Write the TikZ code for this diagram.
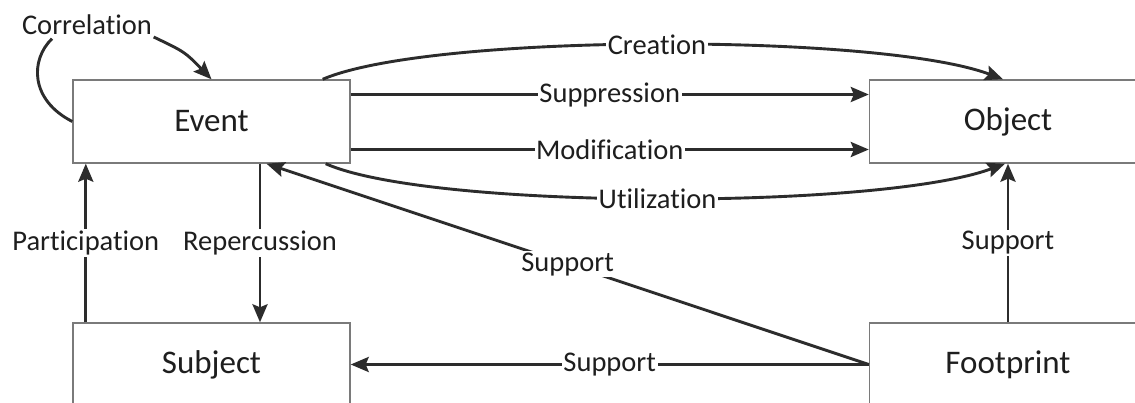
\documentclass[tikz,border=0pt]{standalone}
\usepackage{fontspec}
\setmainfont{Carlito}[RawFeature={-liga;-clig;-dlig}]
\usetikzlibrary{arrows.meta,calc}
\definecolor{ln}{HTML}{2c2c2c}
\definecolor{bx}{HTML}{7a7a7a}
\definecolor{tx}{HTML}{1e1e1e}
\begin{document}
\begin{tikzpicture}[x=1pt,y=-1pt,
  box/.style={draw=bx,line width=1.4pt,fill=white,minimum width=277pt,minimum height=83pt,inner sep=0pt,font=\fontsize{33}{38}\selectfont,text=tx},
  lbl/.style={fill=white,inner sep=1.5pt,font=\fontsize{28.5}{32}\selectfont,text=tx},
  con/.style={draw=ln,line width=2.9pt},
  arr/.style={con,-{Stealth[length=18pt,width=15pt,inset=3pt]}}]
\useasboundingbox (0,0) rectangle (1135,403);
\clip (0,0) rectangle (1135,403);
\fill[white] (0,0) rectangle (1135,403);
% boxes
\node[box] (ev) at (211.5,121.5) {Event};
\node[box] (ob) at (1008,121.5) {Object};
\node[box] (sub) at (211.5,364.5) {Subject};
\node[box] (fp) at (1008,364.5) {Footprint};
% correlation
\node[lbl] (corr) at (87,25) {Correlation};
\draw[con] (ev.west) .. controls (30,100) and (30,60) .. ($(corr.south)+(-35,2)$);
\draw[arr] ($(corr.east)+(0,12)$) .. controls (185,52) .. (ev.north);
% event -> object
\draw[arr] ([xshift=-28pt]ev.north east) .. controls (430,33) and (880,33) .. ([xshift=-5pt]ob.north)
  node[lbl,pos=0.5] {Creation};
\draw[arr] ([yshift=27pt]ev.east) -- node[lbl] {Suppression} ([yshift=27pt]ob.west);
\draw[arr] ([yshift=-28pt]ev.east) -- node[lbl] {Modification} ([yshift=-28pt]ob.west);
\draw[arr] ([xshift=-25pt]ev.south east) .. controls (430,210) and (880,210) .. ([xshift=-3pt]ob.south)
  node[lbl,pos=0.5] {Utilization};
% vertical
\draw[arr] ([xshift=13.5pt]sub.north west) -- node[lbl] {Participation} ([xshift=13.5pt]ev.south west);
\draw[arr] ([xshift=48.5pt]ev.south) -- node[lbl] {Repercussion} ([xshift=48.5pt]sub.north);
\draw[arr] (fp.north) -- node[lbl] {Support} (ob.south);
% footprint supports
\draw[arr] (fp.west) -- node[lbl] {Support} ([xshift=55pt]ev.south);
\draw[arr] (fp.west) -- node[lbl] {Support} (sub.east);
\end{tikzpicture}
\end{document}
